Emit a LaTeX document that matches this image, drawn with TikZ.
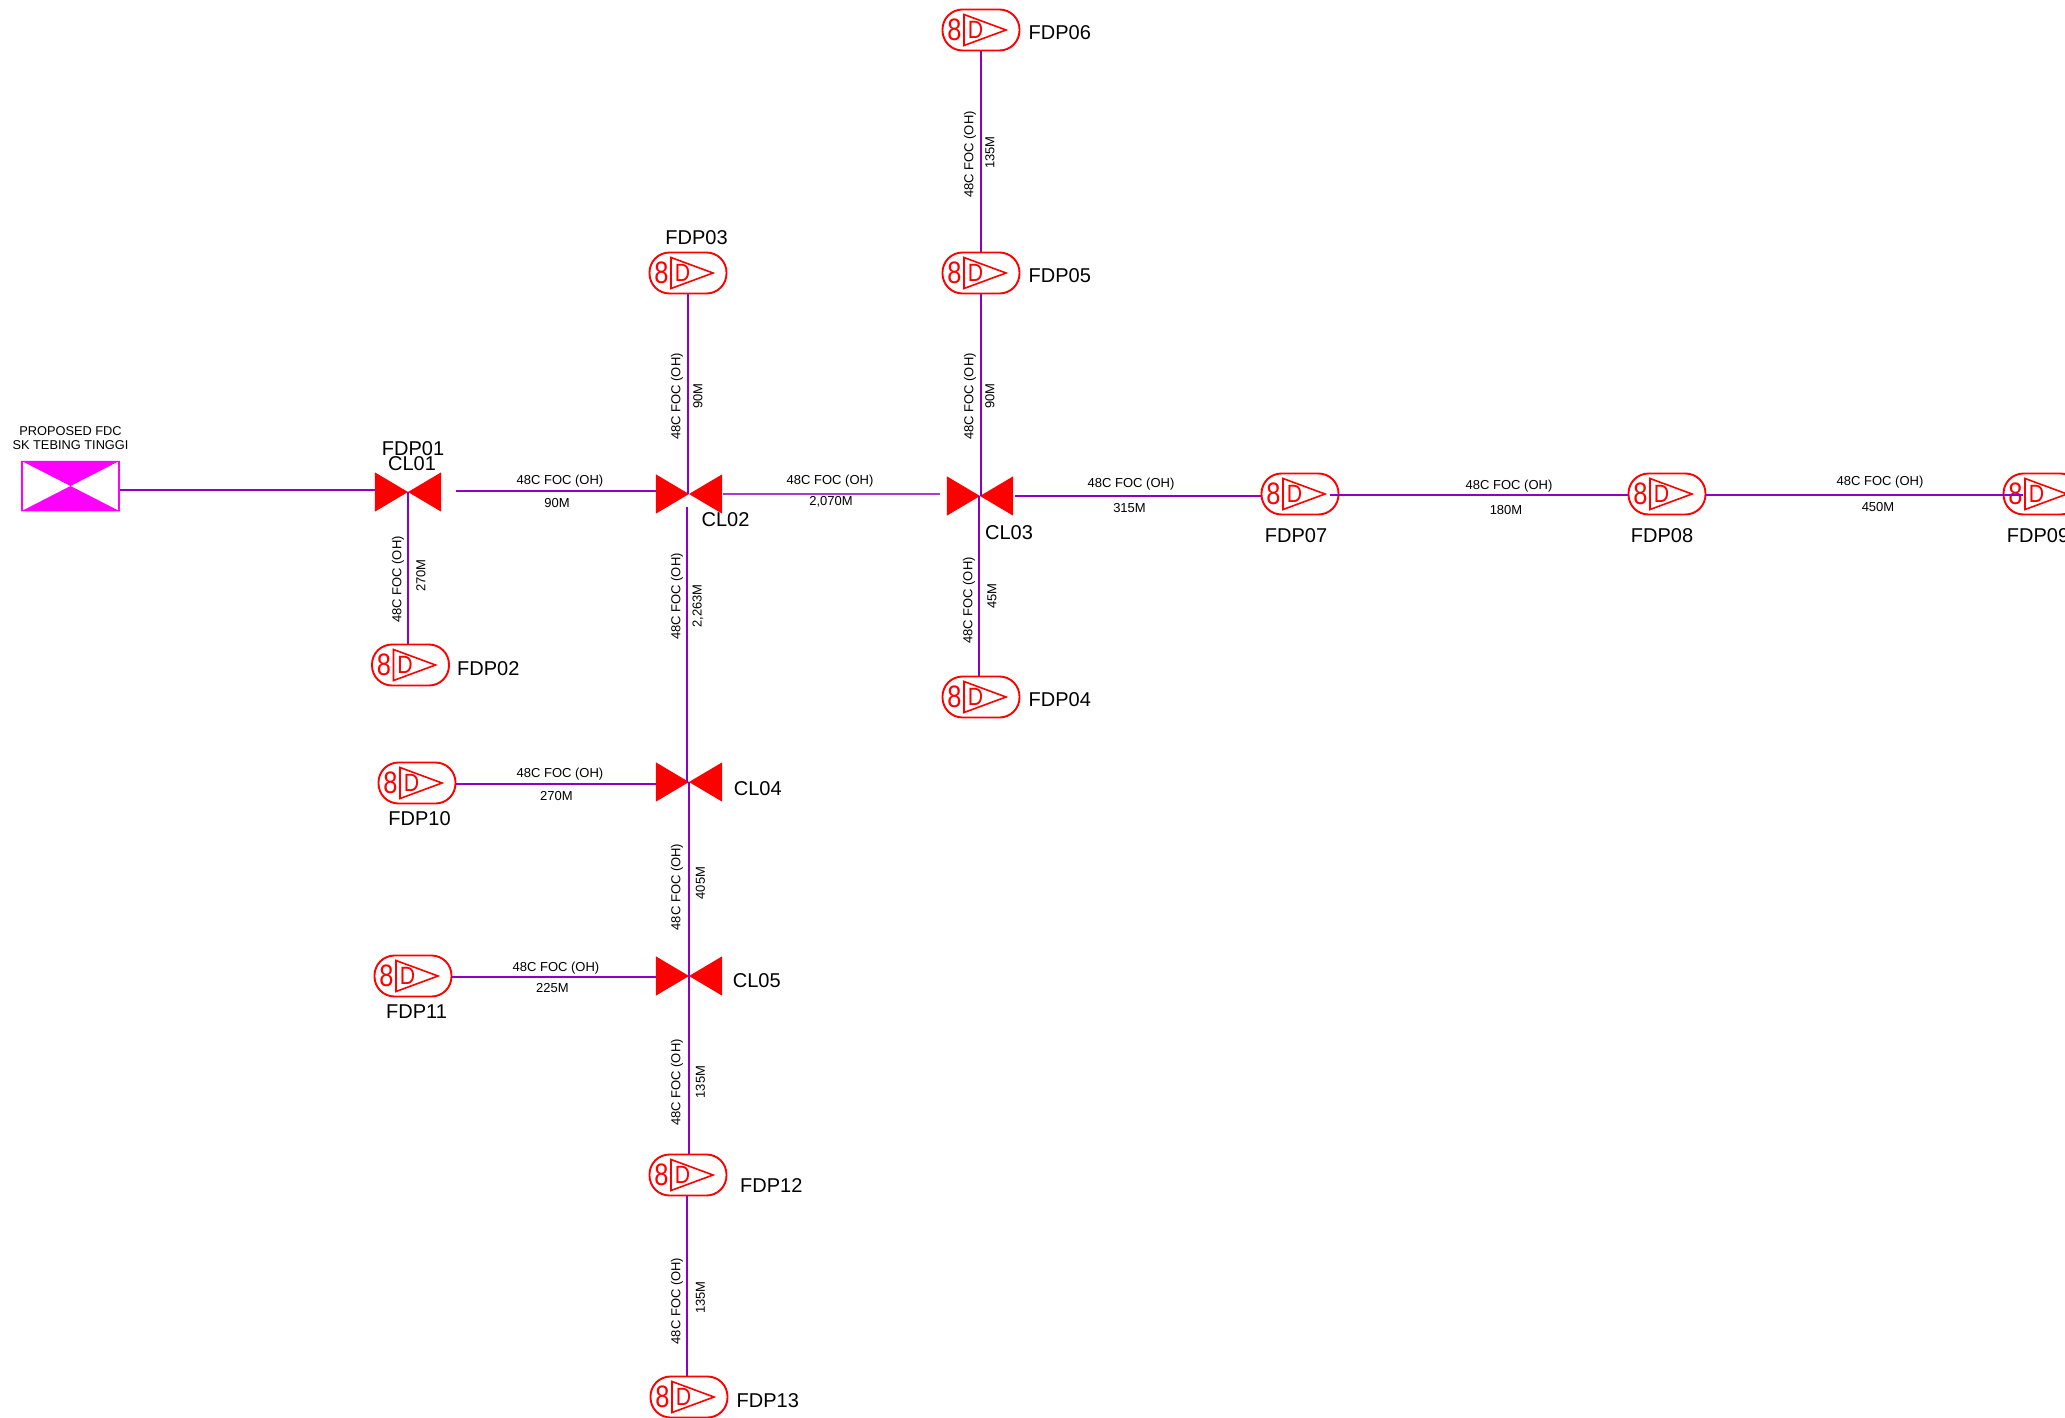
\documentclass[tikz,border=0pt]{standalone}
\usepackage{fontspec}
\setmainfont{Liberation Sans}
\usepackage{tikz}
\usetikzlibrary{positioning}
\definecolor{fibre}{HTML}{8F00C4}
\definecolor{fibrelight}{HTML}{A83CD2}
\definecolor{fdcpink}{HTML}{FF00FF}
\tikzset{
    fiber/.style={
           draw=fibre,
           line width=2.2pt,
           },
    fiberthin/.style={
           draw=fibrelight,
           line width=1.5pt,
           },
    fdcbox/.style={
           rectangle,
           draw=fdcpink, line width=1.5pt,
           minimum width=97pt,
           minimum height=49pt,
           inner sep=0pt,
           },
    clbox/.style={
           rectangle,
           minimum width=66pt,
           minimum height=39pt,
           inner sep=0pt,
           },
    fdpbox/.style={
           rectangle,
           rounded corners=20pt,
           draw=red, line width=1.9pt,
           minimum width=77pt,
           minimum height=41pt,
           inner sep=0pt,
           },
    fdptext/.style={
           text=red,
           inner sep=0pt,
           },
    tag/.style={
           font=\fontsize{20}{22}\selectfont,
           inner sep=0pt,
           },
    cable/.style={
           font=\fontsize{13}{15}\selectfont,
           inner sep=0pt,
           },
}
% fdp symbol: name, position
\newcommand{\fdpsym}[2]{
	\node[fdpbox] (#1) at #2 {};
	\draw[red, line width=1.6pt, shift={(#1.center)}] (-17,-15.5) -- (25,0) -- (-17,15.5) -- cycle;
	\node[fdptext, font=\fontsize{31}{33}\selectfont] (#1eight) at ([xshift=-26.5pt]#1.center) {\scalebox{.82}[1]{8}};
	\node[fdptext, font=\fontsize{25}{27}\selectfont] (#1d) at ([xshift=-5.5pt]#1.center) {\scalebox{.85}[1]{D}};
}
% closure symbol: name, position
\newcommand{\clsym}[2]{
	\node[clbox] (#1) at #2 {};
	\fill[red] (#1.north west) -- (#1.center) -- (#1.south west) -- cycle;
	\fill[red] (#1.north east) -- (#1.center) -- (#1.south east) -- cycle;
}
\begin{document}
\begin{tikzpicture}[x=1pt,y=-1pt]
	\useasboundingbox (0,0) rectangle (2065,1418);
	\clip (0,0) rectangle (2065,1418);

	% source
	\node[fdcbox] (fdc) at (70.5,486) {};
	\fill[fdcpink] (fdc.north west) -- (fdc.center) -- (fdc.north east) -- cycle;
	\fill[fdcpink] (fdc.south west) -- (fdc.center) -- (fdc.south east) -- cycle;
	\node[cable, align=center, font=\fontsize{12.8}{14.7}\selectfont] (fdclabel) at (70.5,438) {PROPOSED FDC\\SK TEBING TINGGI};

	% closures
	\clsym{cl01}{(408,492)}
	\clsym{cl02}{(689,494)}
	\clsym{cl03}{(980,496)}
	\clsym{cl04}{(689,782)}
	\clsym{cl05}{(689,976)}

	% distribution points
	\fdpsym{fdp02}{(410.5,665)}
	\fdpsym{fdp03}{(688,273)}
	\fdpsym{fdp04}{(981,697)}
	\fdpsym{fdp05}{(981,273)}
	\fdpsym{fdp06}{(981,30)}
	\fdpsym{fdp07}{(1300,494)}
	\fdpsym{fdp08}{(1667,494)}
	\fdpsym{fdp09}{(2042,494)}
	\fdpsym{fdp10}{(417,783)}
	\fdpsym{fdp11}{(413,976)}
	\fdpsym{fdp12}{(688,1175)}
	\fdpsym{fdp13}{(689,1397)}

	% free line ends
	\coordinate (cl01out) at (456,491);
	\coordinate (cl02out) at (723,494);
	\coordinate (cl03in) at (940,494);
	\coordinate (cl02down) at (687,507);
	\coordinate (cl03out) at (1015,496);
	\coordinate (fdp07in) at (1261,496);
	\coordinate (fdp07out) at (1330,495);
	\coordinate (fdp09in) at (2023,495);

	% cables
	\draw[fiber] ([yshift=-4pt]fdc.east) -- ([yshift=2pt]cl01.west);
	\draw[fiber] (cl01.center) -- (cl01 |- fdp02.north);
	\draw[fiber] (cl01out) -- (cl01out -| cl02.west);
	\draw[fiberthin] (cl02out) -- (cl03in);
	\draw[fiber] (fdp03.south) -- (fdp03 |- cl02);
	\draw[fiber] (cl02down) -- (cl02down |- cl04);
	\draw[fiber] (cl04.center) -- (cl05.center);
	\draw[fiber] (cl05.center) -- (cl05 |- fdp12.north);
	\draw[fiber] ([xshift=-1pt]fdp12.south) -- ([xshift=-2pt]fdp13.north);
	\draw[fiber] (fdp06.south) -- (fdp05.north);
	\draw[fiber] (fdp05.south) -- (fdp05 |- cl03);
	\draw[fiber] ([xshift=-1pt]cl03.center) -- ([xshift=-2pt]fdp04.north);
	\draw[fiber] (cl03out) -- (fdp07in);
	\draw[fiber] (fdp07out) -- (fdp07out -| fdp08.west);
	\draw[fiber] ([yshift=-1pt]fdp08.east) -- (fdp09in);
	\draw[fiber] ([yshift=-1pt]fdp10.east) -- ([yshift=-2pt]cl04.west);
	\draw[fiber] ([yshift=-1pt]fdp11.east) -- ([yshift=-1pt]cl05.west);

	% names
	\node[tag] (fdp01name) at (413,449) {FDP01};
	\node[tag] (cl01name) at (412,464) {CL01};
	\node[tag] (cl02name) at (725.5,520) {CL02};
	\node[tag] (cl03name) at (1009,533) {CL03};
	\node[tag, right=11.5pt of cl04, yshift=-6.5pt] (cl04name) {CL04};
	\node[tag, right=10.5pt of cl05, yshift=-5pt] (cl05name) {CL05};
	\node[tag, right=7pt of fdp02, yshift=-3.5pt] (fdp02name) {FDP02};
	\node[tag, above=7pt of fdp03, xshift=8.5pt] (fdp03name) {FDP03};
	\node[tag, right=8pt of fdp04, yshift=-2.5pt] (fdp04name) {FDP04};
	\node[tag, right=8pt of fdp05, yshift=-2.5pt] (fdp05name) {FDP05};
	\node[tag, right=8pt of fdp06, yshift=-2.5pt] (fdp06name) {FDP06};
	\node[tag, below=13pt of fdp07, xshift=-4pt] (fdp07name) {FDP07};
	\node[tag, below=13pt of fdp08, xshift=-5pt] (fdp08name) {FDP08};
	\node[tag, below=13pt of fdp09, xshift=-4pt] (fdp09name) {FDP09};
	\node[tag, below=7pt of fdp10, xshift=2.5pt] (fdp10name) {FDP10};
	\node[tag, below=7pt of fdp11, xshift=3.5pt] (fdp11name) {FDP11};
	\node[tag, right=12.5pt of fdp12, yshift=-10.5pt] (fdp12name) {FDP12};
	\node[tag, right=8pt of fdp13, yshift=-3.5pt] (fdp13name) {FDP13};

	% horizontal cable labels
	\foreach \i/\x/\y/\t in {
		1/560/481.5/48C FOC (OH), 2/557/503/90M,
		3/830/481.5/48C FOC (OH), 4/831/502/{2,070M},
		5/1131/484.5/48C FOC (OH), 6/1129.5/508/315M,
		7/1509/486/48C FOC (OH), 8/1506/510.5/180M,
		9/1880/482.5/48C FOC (OH), 10/1878/507/450M,
		11/560/774/48C FOC (OH), 12/556.5/796/270M,
		13/556/968/48C FOC (OH), 14/552.5/988.5/225M}
		\node[cable] (hlabel\i) at (\x,\y) {\t};

	% vertical cable labels
	\foreach \i/\x/\y/\t in {
		1/398/579.5/48C FOC (OH), 2/421/575.5/270M,
		3/970/154.5/48C FOC (OH), 4/990/152.5/135M,
		5/970/396.5/48C FOC (OH), 6/990/396/90M,
		7/969/600.5/48C FOC (OH), 8/992/596/45M,
		9/677/396.5/48C FOC (OH), 10/698/396/90M,
		11/677/596.5/48C FOC (OH), 12/698/606/{2,263M},
		13/677/887/48C FOC (OH), 14/700.5/883/405M,
		15/677/1082.5/48C FOC (OH), 16/700.5/1082/135M,
		17/677/1301/48C FOC (OH), 18/700.5/1297.5/135M}
		\node[cable, rotate=90] (vlabel\i) at (\x,\y) {\t};
\end{tikzpicture}
\end{document}
